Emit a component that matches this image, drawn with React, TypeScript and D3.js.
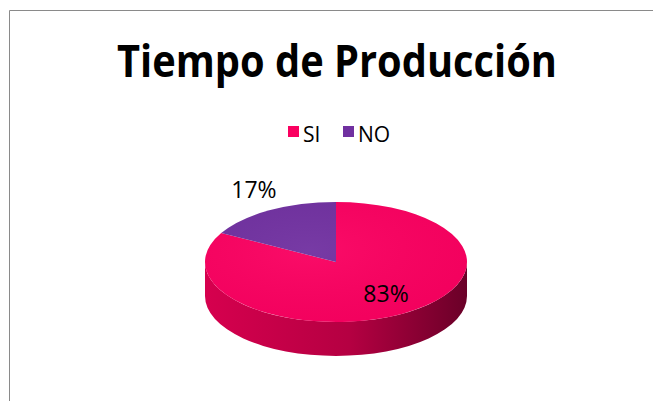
import * as d3 from "d3";

const categories = ["SI", "NO"];
const values = [83, 17];
const valueLabels = ["83%", "17%"];
const colors = ["#FA0060", "#7030A0"];
const title = "Tiempo de Producción";

const W = 653;
const H = 401;

const App = () => {
  const cx = 336;
  const cy = 262;
  const rx = 131;
  const ry = 60;
  const depth = 34;

  const pie = d3.pie<number>().sort(null).value((d) => d);
  const arcs = pie(values);

  const pt = (a: number) => [cx + rx * Math.sin(a), cy - ry * Math.cos(a)];

  // top face of a slice
  const topPath = (a0: number, a1: number) => {
    const [x0, y0] = pt(a0);
    const [x1, y1] = pt(a1);
    const large = a1 - a0 > Math.PI ? 1 : 0;
    return `M${cx},${cy}L${x0},${y0}A${rx},${ry} 0 ${large} 1 ${x1},${y1}Z`;
  };

  // front wall, only the part facing us (between 3 and 9 o'clock)
  const sidePath = (a0: number, a1: number) => {
    const s = Math.max(a0, Math.PI / 2);
    const e = Math.min(a1, (3 * Math.PI) / 2);
    if (e <= s) return null;
    const [x0, y0] = pt(s);
    const [x1, y1] = pt(e);
    return `M${x0},${y0}A${rx},${ry} 0 0 1 ${x1},${y1}L${x1},${y1 + depth}A${rx},${ry} 0 0 0 ${x0},${y0 + depth}Z`;
  };

  // label placement factors along the slice's mid-angle (x, y)
  const labelK = [
    [0.75, 0.61],
    [1.23, 1.39],
  ];
  const font = "'Open Sans', 'Noto Sans', sans-serif";

  return (
    <svg width={W} height={H} style={{ position: "absolute", left: 0, top: 0 }}>
      <defs>
        <linearGradient id="side" x1="0" x2="1" y1="0" y2="0">
          <stop offset="0" stopColor="#D6004E" />
          <stop offset="0.55" stopColor="#B50042" />
          <stop offset="1" stopColor="#6A0028" />
        </linearGradient>
        <radialGradient id="topShade" cx="0.4" cy="0.4" r="0.7">
          <stop offset="0" stopColor="#ffffff" stopOpacity={0.05} />
          <stop offset="1" stopColor="#000000" stopOpacity={0.03} />
        </radialGradient>
      </defs>
      <rect x={0} y={0} width={W} height={H} fill="#fff" />
      <path d={`M9.5,${H}L9.5,10.5L${W},10.5`} fill="none" stroke="#8a8a8a" strokeWidth={1} />

      <text x={337} y={77} textAnchor="middle" fontFamily={font} fontWeight="bold" fontSize={44}
        textLength={440} lengthAdjust="spacingAndGlyphs" fill="#000">
        {title}
      </text>

      {categories.map((c, i) => {
        const x0 = i === 0 ? 288 : 343;
        return (
          <g key={c}>
            <rect x={x0} y={126} width={11} height={11} fill={colors[i]} />
            <text x={x0 + 15} y={142} fontFamily={font} fontSize={21} fill="#000">{c}</text>
          </g>
        );
      })}

      {arcs.map((a, i) => {
        const d = sidePath(a.startAngle, a.endAngle);
        return d ? <path key={"s" + i} d={d} fill="url(#side)" /> : null;
      })}
      {arcs.map((a, i) => (
        <path key={"t" + i} d={topPath(a.startAngle, a.endAngle)} fill={colors[i]} />
      ))}
      <ellipse cx={cx} cy={cy} rx={rx} ry={ry} fill="url(#topShade)" />

      {arcs.map((a, i) => {
        const m = (a.startAngle + a.endAngle) / 2;
        const x = cx + rx * labelK[i][0] * Math.sin(m);
        const y = cy - ry * labelK[i][1] * Math.cos(m);
        return (
          <text key={"l" + i} x={x} y={y + 8} textAnchor="middle" fontFamily={font} fontSize={23} fill="#000">
            {valueLabels[i]}
          </text>
        );
      })}
    </svg>
  );
};

export default App;
